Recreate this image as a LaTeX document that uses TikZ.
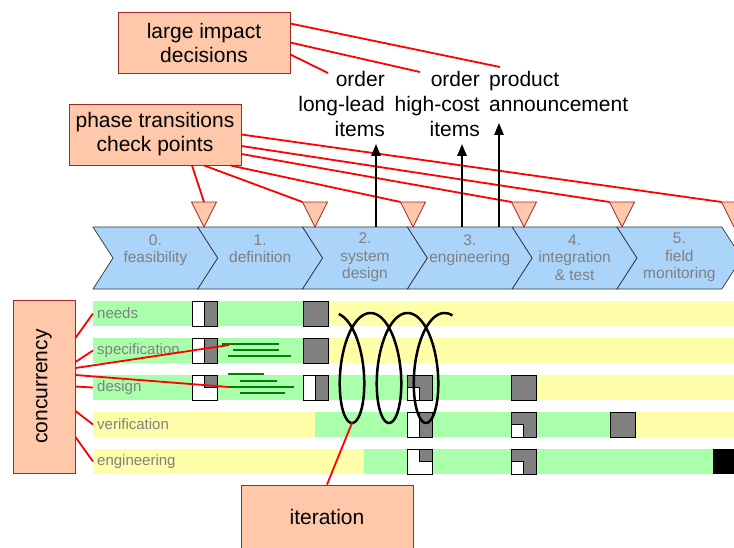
\documentclass[tikz,border=0pt]{standalone}
\usepackage{fontspec}
\setmainfont{Liberation Sans}
\usepackage{graphicx}
\usetikzlibrary{positioning, arrows.meta, calc}

\definecolor{hlfill}{RGB}{255,200,170}
\definecolor{hldraw}{RGB}{160,40,40}
\definecolor{chevblue}{RGB}{170,212,250}
\definecolor{lanegreen}{RGB}{170,255,170}
\definecolor{laneyellow}{RGB}{255,255,170}
\definecolor{msgray}{RGB}{128,128,128}
\definecolor{txtgray}{RGB}{128,128,128}
\definecolor{notegreen}{RGB}{0,128,0}

% milestone squares, #1 = x, #2 = y of the upper left corner
\newcommand{\msfull}[2]{\draw[ms, fill=msgray] (#1,#2) rectangle ++(25,25);}
\newcommand{\mshalf}[2]{%
  \draw[ms, fill=white] (#1,#2) rectangle ++(12.5,25);
  \draw[ms, fill=msgray] (#1+12.5,#2) rectangle ++(12.5,25);}
\newcommand{\msupper}[2]{% white, grey upper right
  \draw[ms, fill=white] (#1,#2) rectangle ++(25,25);
  \draw[ms, fill=msgray] (#1+12.5,#2) rectangle ++(12.5,12.5);}
\newcommand{\mslower}[2]{% grey, white lower left
  \draw[ms, fill=msgray] (#1,#2) rectangle ++(25,25);
  \draw[ms, fill=white] (#1,#2+12.5) rectangle ++(12.5,12.5);}

\begin{document}
\begin{tikzpicture}[
    x=1pt, y=-1pt,
    hl/.style={draw=hldraw, fill=hlfill, line width=0.9pt, align=center,
               minimum width=172pt, minimum height=61pt, inner sep=2pt,
               font=\fontsize{21}{24}\selectfont},
    note/.style={inner sep=0pt, font=\fontsize{21}{25}\selectfont},
    chev/.style={fill=chevblue, draw=black!80, line width=0.7pt},
    chevtxt/.style={align=center, text=txtgray, inner sep=0pt,
                    font=\fontsize{15.5}{17.5}\selectfont},
    tri/.style={fill=hlfill, draw=hldraw, line width=0.8pt},
    lanetxt/.style={anchor=west, inner sep=4pt, text=txtgray,
                    font=\fontsize{15}{17}\selectfont},
    ms/.style={draw=black, line width=0.9pt},
    gl/.style={notegreen, line width=2.6pt},
    rl/.style={red, line width=1.8pt},
    ar/.style={-{Triangle[length=12pt, width=9pt]}, line width=2.5pt},
    loopline/.style={line width=2.5pt},
  ]
  \useasboundingbox (0,0) rectangle (734,547);

  % ---- lanes
  \fill[lanegreen] (93,301) rectangle (328,326);
  \fill[laneyellow] (328,301) rectangle (734,326);
  \fill[lanegreen] (93,338) rectangle (328,363);
  \fill[laneyellow] (328,338) rectangle (734,363);
  \fill[lanegreen] (93,375) rectangle (537,400);
  \fill[laneyellow] (537,375) rectangle (734,400);
  \fill[laneyellow] (93,412) rectangle (315,437);
  \fill[lanegreen] (315,412) rectangle (636,437);
  \fill[laneyellow] (636,412) rectangle (734,437);
  \fill[laneyellow] (93,449) rectangle (364,474);
  \fill[lanegreen] (364,449) rectangle (713,474);
  \fill[black] (713,449) rectangle (740,474);

  \node[lanetxt] (needs) at (93,313.5) {needs};
  \node[lanetxt] (spec) at (93,350.5) {specification};
  \node[lanetxt] (design) at (93,387.5) {design};
  \node[lanetxt] (verif) at (93,424.5) {verification};
  \node[lanetxt] (eng) at (93,461.5) {engineering};

  % ---- milestones
  \mshalf{192}{301} \msfull{303}{301}
  \mshalf{192}{338} \msfull{303}{338}
  \msupper{192}{375} \mshalf{303}{375} \mslower{407}{375} \msfull{511}{375}
  \mshalf{407}{412} \mslower{511}{412} \msfull{610}{412}
  \msupper{407}{449} \mslower{511}{449}

  % ---- notes in the lanes
  \draw[gl] (222,344) -- (279,344);
  \draw[gl] (233,350) -- (279,350);
  \draw[gl] (228,356) -- (291,356);
  \draw[gl] (228,374) -- (264,374);
  \draw[gl] (240,381) -- (277,381);
  \draw[gl] (229,387) -- (294,387);
  \draw[gl] (240,393) -- (285,393);
  \coordinate (specnote) at (229,345);
  \coordinate (designnote) at (229,387);

  % ---- phases
  \foreach \i/\t in {0/{feasibility\\~}, 1/{definition\\~}, 2/{system\\design},
                     3/{engineering\\~}, 4/{integration\\\& test}, 5/{field\\monitoring}} {
    \path[chev] ({93+104.8*\i},227) -- ++(104.8,0) -- ++(20,31) -- ++(-20,31)
      -- ++(-104.8,0) -- ++(20,-31) -- cycle;
    \node[chevtxt] (ph\i) at ({155.4+104.8*\i},257.5) {\i.\\\t};
  }

  \foreach \c [count=\k] in {204,315,413,524,622,734} {
    \draw[tri] (\c-12.5,202) -- (\c+12.5,202) -- (\c,227) -- cycle;
    \coordinate (tl\k) at (\c-12.5,202);
    \coordinate (tm\k) at (\c,202);
  }

  % ---- callouts
  \node[hl] (impact) at (204,42.5) {large impact\\decisions};
  \node[hl] (phase) at (155,134.5) {phase transitions\\check points};
  \node[hl, minimum width=62pt, minimum height=173pt] (conc) at (44,386.5)
    {\rotatebox{90}{concurrency}};
  \node[hl, minimum height=64pt] (iter) at (327,517) {iteration};

  % ---- decisions
  \node[note, anchor=north east, align=right] (longlead) at (385,71) {order\\long-lead\\items};
  \node[note, anchor=north east, align=right] (highcost) at (480,71) {order\\high-cost\\items};
  \node[note, anchor=north west, align=left] (announce) at (489,71) {product\\announcement};

  \coordinate (d1) at (500,67);
  \coordinate (d2) at (420,72);
  \coordinate (d3) at (328,73);
  \draw[rl] ([yshift=-12pt]impact.north east) -- (d1);
  \draw[rl] ([yshift=-31pt]impact.north east) -- (d2);
  \draw[rl] ([yshift=-43pt]impact.north east) -- (d3);

  \draw[rl] ([xshift=37pt]phase.south) -- (tm1);
  \draw[rl] ([xshift=49pt]phase.south) -- (tl2);
  \draw[rl] ([xshift=-11pt]phase.south east) -- (tl3);
  \draw[rl] ([yshift=-19.5pt]phase.east) -- (tl4);
  \draw[rl] ([yshift=-11.5pt]phase.east) -- (tl5);
  \draw[rl] (phase.east) -- (tl6);

  \coordinate (a1) at (376,227);
  \coordinate (a2) at (462,227);
  \coordinate (a3) at (499,227);
  \draw[ar, shorten >=7pt] (a1) -- (a1 |- longlead.south);
  \draw[ar, shorten >=7pt] (a2) -- (a2 |- highcost.south);
  \draw[ar, shorten >=11pt] (a3) -- (a3 |- announce.south);

  % ---- concurrency
  \draw[rl] ([yshift=48.5pt]conc.east) -- (needs.west);
  \draw[rl] ([yshift=24.5pt]conc.east) -- (spec.west);
  \draw[rl] ([yshift=18.5pt]conc.east) -- (specnote);
  \draw[rl] ([yshift=11.5pt]conc.east) -- (designnote);
  \draw[rl] (conc.east) -- (design.west);
  \draw[rl] ([yshift=-24.5pt]conc.east) -- (verif.west);
  \draw[rl] ([yshift=-50.5pt]conc.east) -- (eng.west);

  % ---- iteration
  \draw[loopline] plot[domain=0.2:19.15, samples=240, smooth]
    ({333.5+5.89*\x+20.7*sin(\x r)}, {368-55*cos(\x r)});
  \coordinate (loopend) at (352,423);
  \draw[rl] (loopend) -- (iter.north);
\end{tikzpicture}
\end{document}
